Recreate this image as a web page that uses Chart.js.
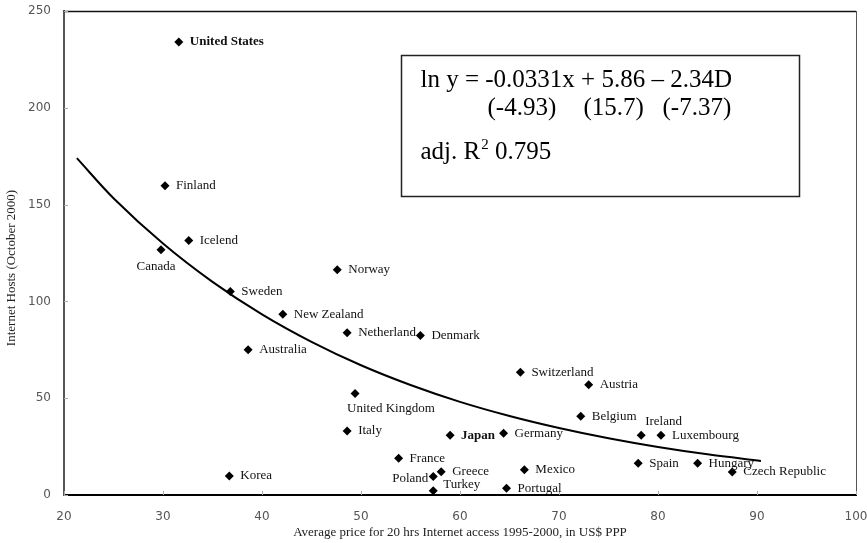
<!DOCTYPE html>
<html>
<head>
<meta charset="utf-8">
<script src="https://cdn.jsdelivr.net/npm/chart.js@4.4.1/dist/chart.umd.min.js"></script>
<style>
html,body{margin:0;padding:0;background:#fff;}
</style>
</head>
<body>
<canvas id="chart" width="867" height="543"></canvas>
<script>
// countries, price (x) and hosts (y)
const countries=["United States","Finland","Icelend","Canada","Sweden","Norway","New Zealand","Netherland","Denmark","Australia",
 "Switzerland","Austria","United Kingdom","Belgium","Italy","Japan","Germany","Ireland","Luxembourg","France",
 "Spain","Hungary","Korea","Greece","Poland","Mexico","Czech Republic","Turkey","Portugal"];
const prices=[31.6,30.2,32.6,29.8,36.8,47.6,42.1,48.6,56.0,38.6,
 66.1,73.0,49.4,72.2,48.6,59.0,64.4,78.3,80.3,53.8,
 78.0,84.0,36.7,58.1,57.3,66.5,87.5,57.3,64.7];
const hosts=[234,159.8,131.5,126.7,105.1,116.3,93.4,83.8,82.4,75.0,
 63.4,57.0,52.4,40.7,33.1,30.9,31.9,30.9,30.9,19.0,
 16.4,16.4,9.8,12.0,9.5,13.1,11.9,2.2,3.5];

// fitted curve, estimated along the drawn line
const fitX=[21.3,25,30,35,40,45,50,55,60,65,70,75,80,85,90.4];
const fitY=[174,153.3,129.9,110.1,93.3,79.1,67.0,56.8,48.1,40.8,34.6,29.3,24.8,21.0,17.6];

const boldNames=["United States","Japan"];
const labelPos={
  "Canada":{dx:-5,dy:17,align:"center"},
  "United Kingdom":{dx:-8,dy:15,align:"left"},
  "Ireland":{dx:4,dy:-14,align:"left"},
  "Poland":{dx:-5,dy:2,align:"right"},
  "Turkey":{dx:10,dy:-6,align:"left"}
};

const serif='"Liberation Serif", "Times New Roman", serif';

const decor={
  id:"decor",
  afterDatasetsDraw(chart){
    const ctx=chart.ctx, a=chart.chartArea;
    const xs=chart.scales.x, ys=chart.scales.y;
    ctx.save();
    // frame top/right
    ctx.strokeStyle="#111"; ctx.lineWidth=1.5;
    ctx.beginPath(); ctx.moveTo(a.left,a.top+0.5); ctx.lineTo(a.right,a.top+0.5); ctx.stroke();
    ctx.strokeStyle="#555"; ctx.lineWidth=1;
    ctx.beginPath(); ctx.moveTo(a.right+0.5,a.top); ctx.lineTo(a.right+0.5,a.bottom); ctx.stroke();
    // inward ticks
    ctx.strokeStyle="#aaa"; ctx.lineWidth=1;
    ys.ticks.forEach(t=>{
      const y=Math.round(ys.getPixelForValue(t.value))+0.5;
      ctx.beginPath(); ctx.moveTo(a.left,y); ctx.lineTo(a.left+4,y); ctx.stroke();
    });
    xs.ticks.forEach(t=>{
      const x=Math.round(xs.getPixelForValue(t.value))+0.5;
      ctx.beginPath(); ctx.moveTo(x,a.bottom); ctx.lineTo(x,a.bottom-4); ctx.stroke();
    });
    // point labels
    const meta=chart.getDatasetMeta(1);
    ctx.fillStyle="#111";
    ctx.textBaseline="middle";
    meta.data.forEach((pt,i)=>{
      const name=countries[i];
      const p=labelPos[name]||{dx:11,dy:0,align:"left"};
      ctx.font=(boldNames.includes(name)?"bold ":"")+"13px "+serif;
      ctx.textAlign=p.align;
      ctx.fillText(name,pt.x+p.dx,pt.y+p.dy);
    });
    // axis titles
    ctx.fillStyle="#222";
    ctx.font="13px "+serif;
    ctx.textAlign="center";
    ctx.fillText("Average price for 20 hrs Internet access 1995-2000, in US$ PPP",(a.left+a.right)/2,533);
    ctx.save();
    ctx.translate(12,268);
    ctx.rotate(-Math.PI/2);
    ctx.fillText("Internet Hosts (October 2000)",0,0);
    ctx.restore();
    // equation box
    const bx=Math.round(xs.getPixelForValue(54.03))+0.5, by=Math.round(ys.getPixelForValue(227.1))+0.5;
    const bx2=Math.round(xs.getPixelForValue(94.27))+0.5, by2=Math.round(ys.getPixelForValue(154.6))+0.5;
    ctx.strokeStyle="#222"; ctx.lineWidth=1.5;
    ctx.strokeRect(bx,by,bx2-bx,by2-by);
    ctx.fillStyle="#000";
    ctx.textAlign="left"; ctx.textBaseline="alphabetic";
    ctx.font="25px "+serif;
    ctx.fillText("ln y = -0.0331x + 5.86 \u2013 2.34D",bx+19,by+31);
    ctx.fillText("(-4.93)",bx+86,by+59);
    ctx.fillText("(15.7)",bx+182,by+59);
    ctx.fillText("(-7.37)",bx+261,by+59);
    let tx=bx+19;
    ctx.fillText("adj. R",tx,by+103);
    tx+=ctx.measureText("adj. R").width+1;
    ctx.font="15px "+serif;
    ctx.fillText("2",tx,by+93);
    tx+=ctx.measureText("2").width;
    ctx.font="25px "+serif;
    ctx.fillText(" 0.795",tx,by+103);
    ctx.restore();
  }
};

new Chart(document.getElementById("chart"),{
  type:"scatter",
  data:{
    datasets:[
      {
        type:"line",
        data:fitX.map((x,i)=>({x:x,y:fitY[i]})),
        borderColor:"#000",
        borderWidth:2,
        pointRadius:0,
        tension:0.35,
        fill:false
      },
      {
        data:prices.map((x,i)=>({x:x,y:hosts[i]})),
        pointStyle:"rectRot",
        pointRadius:4.5,
        backgroundColor:"#000",
        borderColor:"#000",
        borderWidth:0
      }
    ]
  },
  options:{
    responsive:false,
    animation:false,
    layout:{padding:{left:28,right:11,top:11,bottom:18}},
    plugins:{legend:{display:false},tooltip:{enabled:false}},
    scales:{
      x:{
        type:"linear",min:20,max:100,
        grid:{display:false,drawTicks:false},
        border:{color:"#000",width:2},
        ticks:{stepSize:10,padding:15,color:"#555",font:{family:"DejaVu Sans",size:12}},
        afterFit(s){s.height=30;s.paddingLeft=0;s.paddingRight=0;}
      },
      y:{
        type:"linear",min:0,max:250,
        grid:{display:false,drawTicks:false},
        border:{color:"#555",width:2},
        ticks:{stepSize:50,padding:13,color:"#555",font:{family:"DejaVu Sans",size:12}},
        afterFit(s){s.width=36;s.paddingTop=0;s.paddingBottom=0;}
      }
    }
  },
  plugins:[decor]
});
</script>
</body>
</html>
